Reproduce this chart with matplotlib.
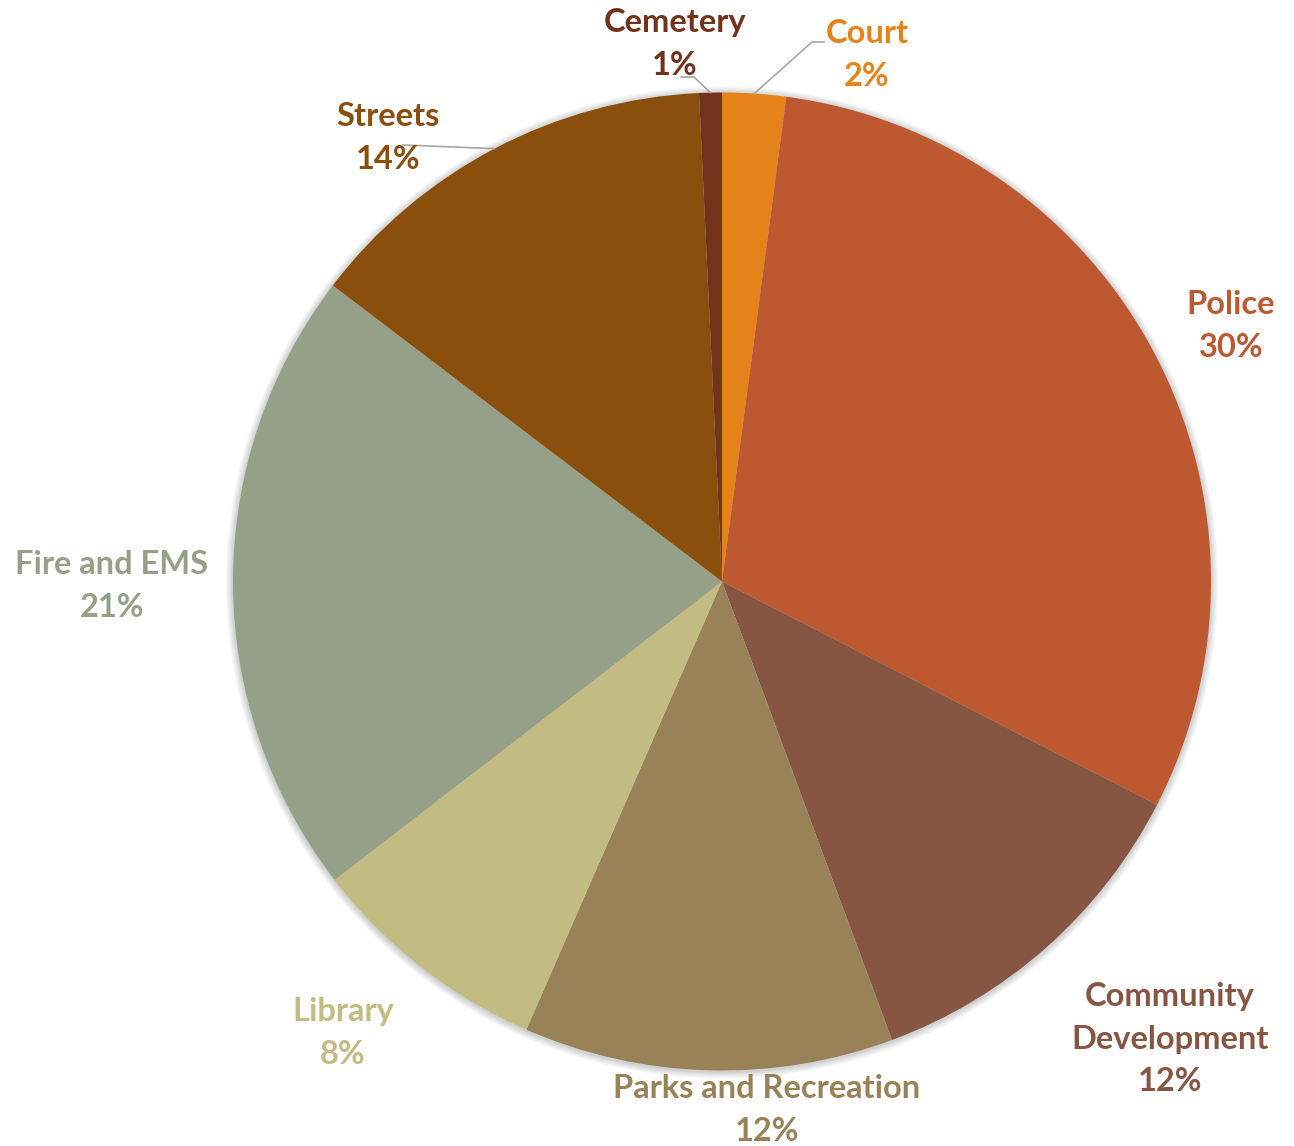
import matplotlib.pyplot as plt
import numpy as np

# Budget share by department, clockwise from the top
departments = ["Court", "Police", "Community\nDevelopment", "Parks and Recreation",
               "Library", "Fire and EMS", "Streets", "Cemetery"]
shares = [2.1, 30.45, 11.8, 12.2, 8.0, 20.8, 13.9, 0.75]
colors = ["#E5831A", "#BD5830", "#865642", "#9A8258",
          "#C2BB82", "#96A088", "#8A4E0D", "#73331B"]

# label anchor (pixel coords, y down) and optional leader elbow points
label_pos = {
    "Court": (867, 55),
    "Police": (1231, 326),
    "Community\nDevelopment": (1170, 1039),
    "Parks and Recreation": (767, 1110),
    "Library": (343, 1033),
    "Fire and EMS": (112, 586),
    "Streets": (388, 138),
    "Cemetery": (675, 44),
}
leaders = {
    "Court": [(812, 42), (824, 42)],
    "Cemetery": [(694, 77), (681, 77)],
    "Streets": [(403, 145)],
}

W, H = 1294, 1146
CX, CY, R = 722, 581.5, 489

plt.rcParams["font.family"] = ["Lato", "DejaVu Sans"]

fig = plt.figure(figsize=(W / 100, H / 100), dpi=100)
ax = fig.add_axes([0, 0, 1, 1])


def fy(y):
    return H - y


# soft shadow behind the pie
for i in range(8, 0, -1):
    ax.add_patch(plt.Circle((CX, fy(CY) - 1), R + i * 0.9, color="#000000",
                            alpha=0.025, lw=0, zorder=0))

wedges, _ = ax.pie(shares, colors=colors, startangle=90, counterclock=False,
                   center=(CX, fy(CY)), radius=R, frame=True,
                   wedgeprops=dict(linewidth=0))
ax.set_xlim(0, W)
ax.set_ylim(0, H)
ax.set_aspect("equal")
ax.axis("off")

for name, val, col, w in zip(departments, shares, colors, wedges):
    x, y = label_pos[name]
    pct = f"{round(val):.0f}%"
    ax.text(x, fy(y), f"{name}\n{pct}", color=col, fontsize=23.5,
            fontweight="bold", ha="center", va="center", linespacing=1.55,
            zorder=5)
    if name in leaders:
        mid = np.deg2rad((w.theta1 + w.theta2) / 2)
        sx = CX + R * np.cos(mid)
        sy = fy(CY) + R * np.sin(mid)
        pts = [(sx, sy)] + [(px, fy(py)) for px, py in leaders[name]]
        xs, ys = zip(*pts)
        ax.plot(xs, ys, color="#A6A6A6", lw=1.2, zorder=4)

fig.savefig("out.png", dpi=100, facecolor="white")
